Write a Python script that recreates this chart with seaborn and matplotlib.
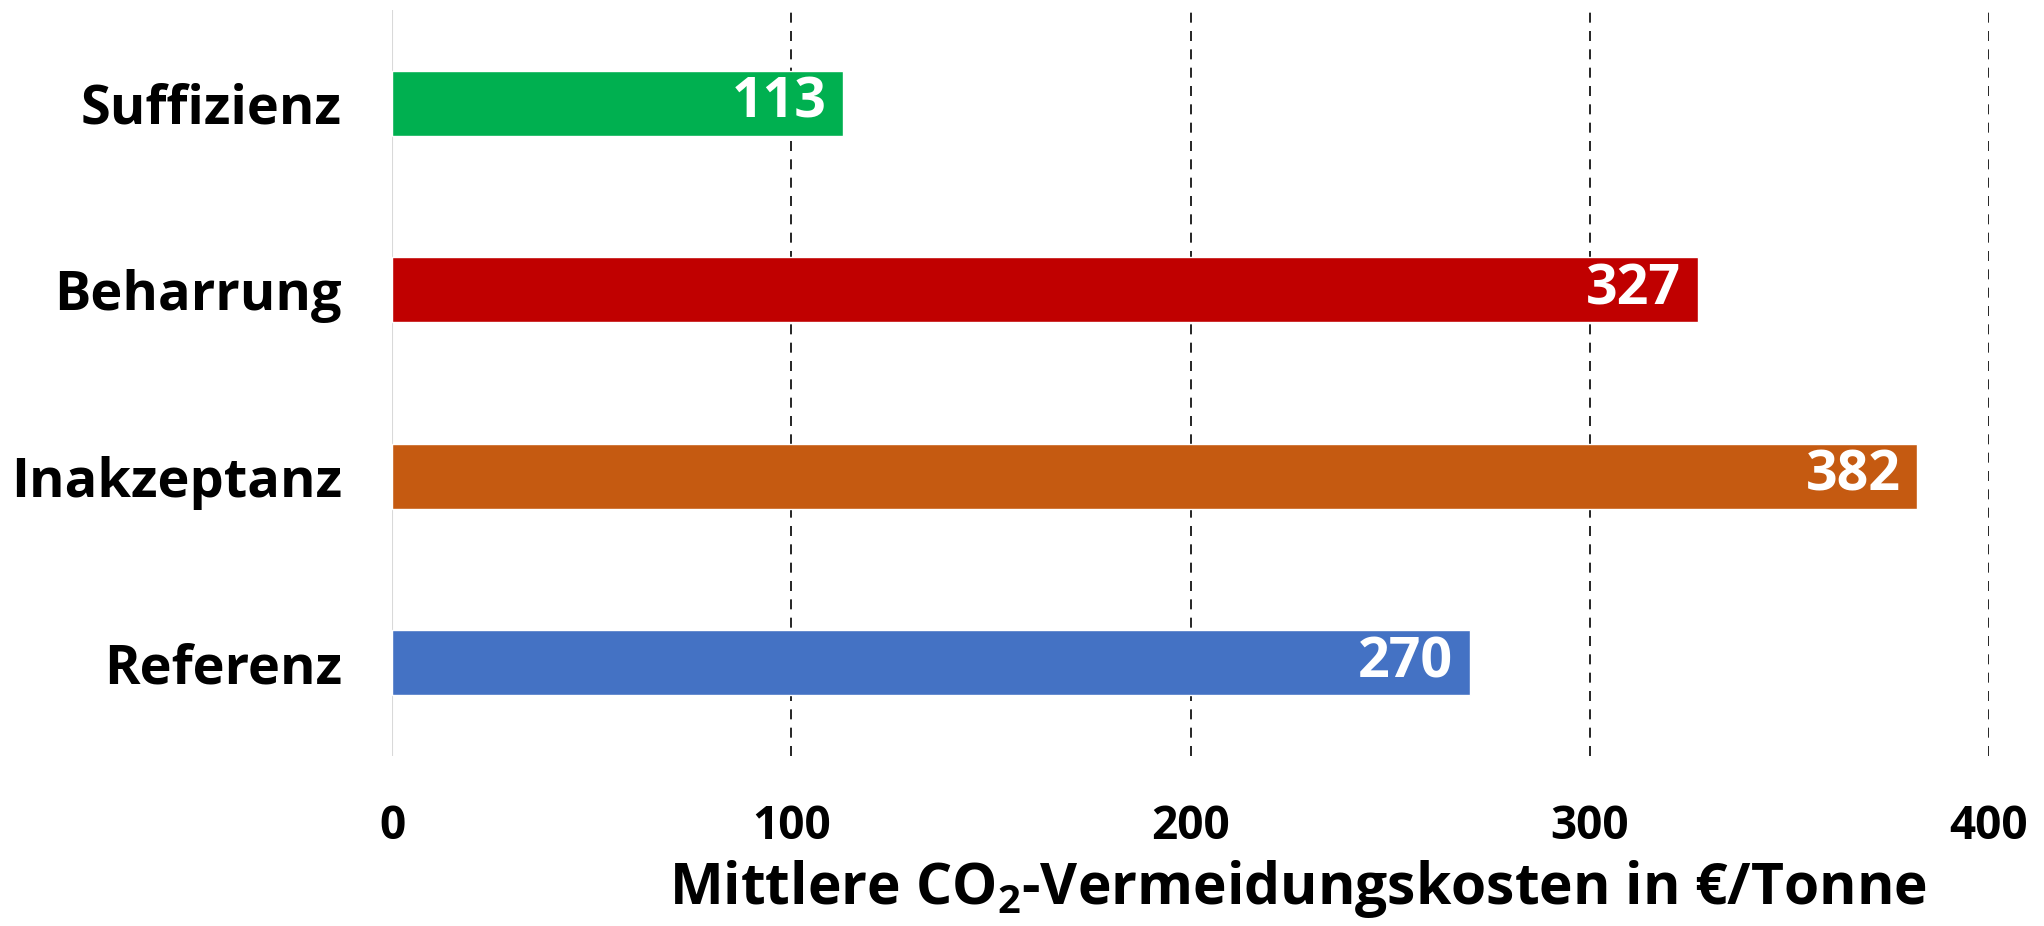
import matplotlib
matplotlib.use("Agg")
import matplotlib.pyplot as plt
import seaborn as sns
import pandas as pd

szenarien = ["Suffizienz", "Beharrung", "Inakzeptanz", "Referenz"]
kosten = [113, 327, 382, 270]
farben = ["#00B050", "#C00000", "#C55A11", "#4472C4"]
x_ticks = [0, 100, 200, 300, 400]
x_titel = "Mittlere CO$_2$-Vermeidungskosten in \u20ac/Tonne"

sns.set_style("white")
plt.rcParams["font.family"] = ["Open Sans", "DejaVu Sans"]
plt.rcParams["font.weight"] = "bold"
plt.rcParams["mathtext.fontset"] = "custom"
plt.rcParams["mathtext.rm"] = "Open Sans:bold"
plt.rcParams["mathtext.default"] = "rm"
plt.rcParams["text.color"] = "black"
plt.rcParams["xtick.color"] = "black"
plt.rcParams["ytick.color"] = "black"
plt.rcParams["axes.labelcolor"] = "black"

df = pd.DataFrame({"Szenario": szenarien, "Kosten": kosten})

fig = plt.figure(figsize=(20.44, 9.26), dpi=100)
ax = fig.add_axes([0.1918, 0.1836, 0.7813, 0.8056])

sns.barplot(data=df, x="Kosten", y="Szenario", hue="Szenario",
            palette=farben, orient="h", width=0.35, legend=False,
            saturation=1, ax=ax)

ax.set_xlim(0, 400)
ax.set_ylim(3.5, -0.5)
ax.set_xticks(x_ticks)
ax.grid(False)
for t in x_ticks[1:]:
    ax.axvline(t, color="black", lw=1.2, ls=(0, (6, 5)), zorder=0)
ax.axvline(0, color="#D9D9D9", lw=1.5, zorder=0)
for s in ax.spines.values():
    s.set_visible(False)

ax.tick_params(axis="x", length=0, pad=34, labelsize=33, labelcolor="black")
ax.tick_params(axis="y", length=0, pad=36, labelsize=39, labelcolor="black")
for lab in ax.get_xticklabels() + ax.get_yticklabels():
    lab.set_fontweight("bold")

for i, v in enumerate(kosten):
    ax.annotate(str(v), xy=(v, i), xytext=(-12, 0), textcoords="offset points",
                ha="right", va="center", color="white", fontsize=40,
                fontweight="bold")

ax.set_ylabel("")
ax.set_xlabel(x_titel, fontsize=41, fontweight="bold", color="black")
ax.xaxis.label.set_va("center")
ax.xaxis.set_label_coords(0.567, -0.178)

fig.savefig("out.png", dpi=100)
